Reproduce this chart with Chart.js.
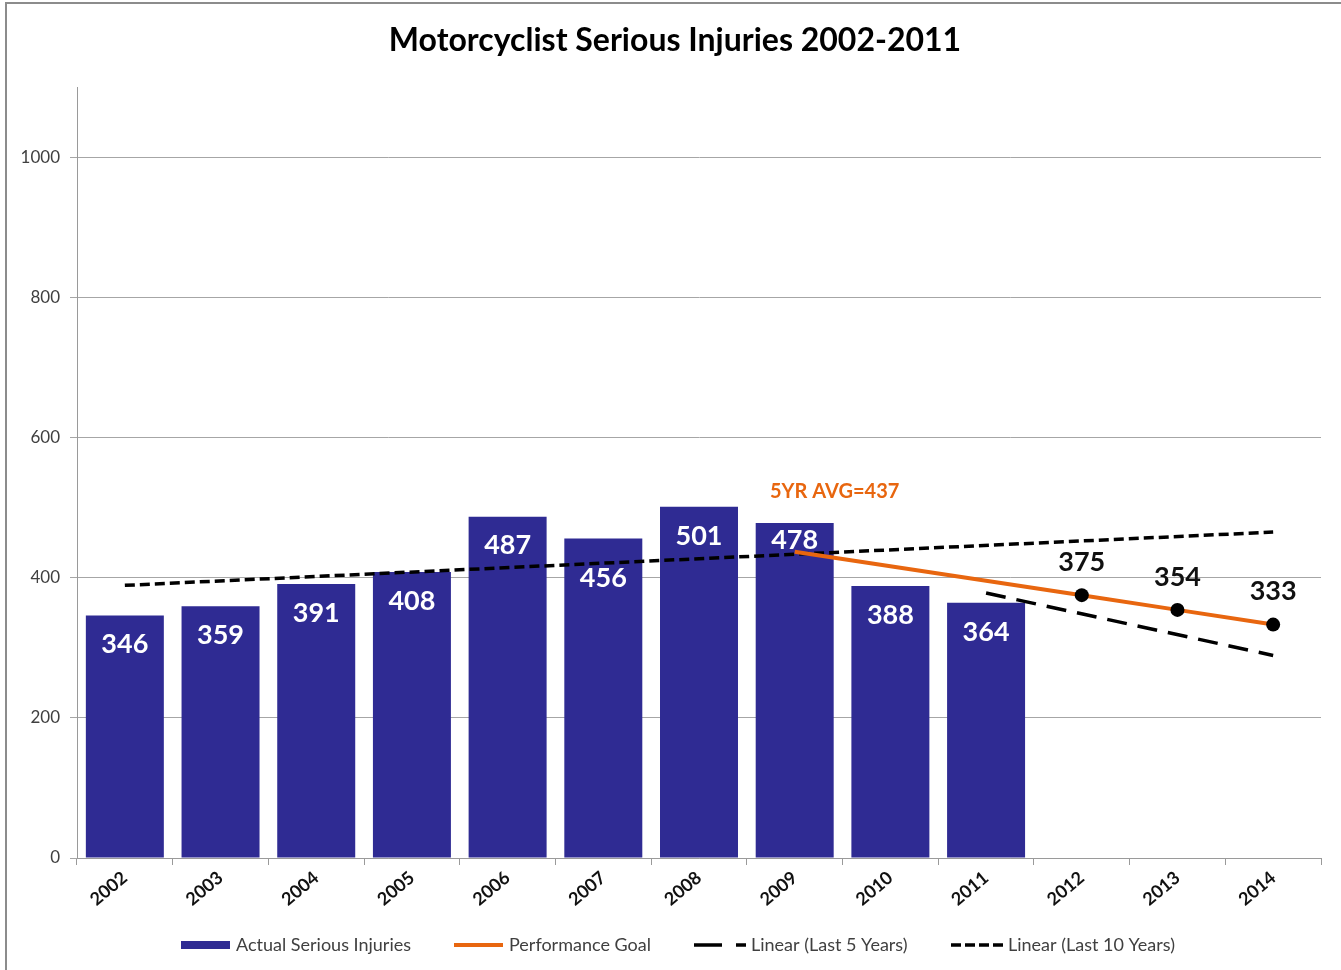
<!DOCTYPE html>
<html>
<head>
<meta charset="utf-8">
<script src="https://cdn.jsdelivr.net/npm/chart.js@4"></script>
<style>
  html, body { margin: 0; padding: 0; background: #ffffff; }
  #wrap { width: 1341px; height: 970px; position: relative; }
</style>
</head>
<body>
<div id="wrap"><canvas id="c" width="1341" height="970"></canvas></div>
<script>
// ---- data ----
const categories = ['2002','2003','2004','2005','2006','2007','2008','2009','2010','2011','2012','2013','2014'];
const actualInjuries = [346, 359, 391, 408, 487, 456, 501, 478, 388, 364, null, null, null];
const performanceGoal = [null, null, null, null, null, null, null, 437, null, null, 375, 354, 333];
const trendLast5 = [null, null, null, null, null, null, null, null, null, 378, null, null, 289];
const trendLast10 = [389, null, null, null, null, null, null, null, null, null, null, null, 465];
const yTickValues = [0, 200, 400, 600, 800, 1000];
const titleText = 'Motorcyclist Serious Injuries 2002-2011';
const avgLabel = '5YR AVG=437';
const avgLabelIndex = 7;
const seriesNames = ['Actual Serious Injuries', 'Performance Goal', 'Linear (Last 5 Years)', 'Linear (Last 10 Years)'];

// ---- styles ----
const FONT = 'Lato, "Open Sans", sans-serif';
const BAR_COLOR = '#2f2b93';
const ORANGE = '#e8660f';
const AXIS_GRAY = '#9a9a9a';

const overlay = {
  id: 'overlay',
  afterDatasetsDraw(chart) {
    const ctx = chart.ctx;
    const x = chart.scales.x, y = chart.scales.y;
    ctx.save();
    // bar value labels
    ctx.font = 'bold 27px ' + FONT;
    ctx.fillStyle = '#ffffff';
    ctx.textAlign = 'center';
    ctx.textBaseline = 'middle';
    const nudge = {5: 11, 7: -12};
    const barMeta = chart.getDatasetMeta(0);
    actualInjuries.forEach((v, i) => {
      if (v == null) return;
      const bar = barMeta.data[i];
      ctx.fillText(String(v), bar.x, bar.y + 29 + (nudge[i] || 0));
    });
    // goal labels
    ctx.fillStyle = '#111111';
    performanceGoal.forEach((v, i) => {
      if (v == null || i <= avgLabelIndex) return;
      ctx.fillText(String(v), x.getPixelForValue(i), y.getPixelForValue(v) - 33);
    });
    // 5yr average label
    ctx.font = 'bold 20px ' + FONT;
    ctx.fillStyle = ORANGE;
    ctx.fillText(avgLabel, x.getPixelForValue(avgLabelIndex) + 40, y.getPixelForValue(performanceGoal[avgLabelIndex]) - 60);
    ctx.restore();
  },
  afterDraw(chart) {
    const ctx = chart.ctx;
    ctx.save();
    // title
    ctx.font = 'bold 32px ' + FONT;
    ctx.fillStyle = '#000000';
    ctx.textAlign = 'center';
    ctx.textBaseline = 'middle';
    ctx.fillText(titleText, 675, 41);
    // frame
    ctx.strokeStyle = '#8c8c8c';
    ctx.lineWidth = 2;
    ctx.strokeRect(6, 3, 1340, 980);
    // legend
    const ly = 945;
    ctx.font = '18px ' + FONT;
    ctx.fillStyle = '#404040';
    ctx.textAlign = 'left';
    ctx.textBaseline = 'middle';
    // 1: bar
    ctx.fillStyle = BAR_COLOR;
    ctx.fillRect(181, ly - 4, 49, 8);
    ctx.fillStyle = '#404040';
    ctx.fillText(seriesNames[0], 236, ly);
    // 2: orange line
    ctx.strokeStyle = ORANGE; ctx.lineWidth = 4;
    ctx.beginPath(); ctx.moveTo(454, ly); ctx.lineTo(503, ly); ctx.stroke();
    ctx.fillText(seriesNames[1], 509, ly);
    // 3: long dash
    ctx.strokeStyle = '#000000'; ctx.lineWidth = 3.5;
    ctx.setLineDash([28, 14]);
    ctx.beginPath(); ctx.moveTo(694, ly); ctx.lineTo(746, ly); ctx.stroke();
    ctx.fillText(seriesNames[2], 751, ly);
    // 4: short dash
    ctx.setLineDash([10, 4]);
    ctx.beginPath(); ctx.moveTo(951, ly); ctx.lineTo(1004, ly); ctx.stroke();
    ctx.setLineDash([]);
    ctx.fillText(seriesNames[3], 1008, ly);
    ctx.restore();
  }
};

new Chart(document.getElementById('c'), {
  data: {
    labels: categories,
    datasets: [
      {
        type: 'bar', label: seriesNames[0], data: actualInjuries,
        backgroundColor: BAR_COLOR, borderWidth: 0,
        categoryPercentage: 1.0, barPercentage: 0.815, order: 4
      },
      {
        type: 'line', label: seriesNames[1], data: performanceGoal,
        borderColor: ORANGE, borderWidth: 4, spanGaps: true, tension: 0,
        pointRadius: (c) => c.dataIndex > avgLabelIndex ? 7 : 0,
        pointBackgroundColor: '#000000', pointBorderColor: '#000000', pointBorderWidth: 0,
        order: 1
      },
      {
        type: 'line', label: seriesNames[2], data: trendLast5,
        borderColor: '#000000', borderWidth: 3.5, borderDash: [20, 11], spanGaps: true,
        pointRadius: 0, order: 2
      },
      {
        type: 'line', label: seriesNames[3], data: trendLast10,
        borderColor: '#000000', borderWidth: 3.5, borderDash: [10, 5], spanGaps: true,
        pointRadius: 0, order: 3
      }
    ]
  },
  options: {
    responsive: false, animation: false,
    layout: { padding: { top: 87, right: 20, left: 0, bottom: 0 } },
    plugins: { legend: { display: false }, title: { display: false }, tooltip: { enabled: false } },
    scales: {
      x: {
        type: 'category', offset: true,
        grid: { display: true, drawOnChartArea: false, drawTicks: true, tickLength: 7, offset: true, color: AXIS_GRAY },
        border: { display: true, color: AXIS_GRAY, width: 1 },
        ticks: { minRotation: 40, maxRotation: 40, font: { family: FONT, size: 18, weight: 'bold' }, color: '#111111', padding: 2 },
        afterFit: (s) => { s.height = 112; }
      },
      y: {
        min: 0, max: 1100,
        afterBuildTicks: (s) => { s.ticks = yTickValues.map(v => ({ value: v })); },
        ticks: { font: { family: FONT, size: 17 }, color: '#404040', padding: 10, callback: (v) => String(v) },
        grid: { color: '#a6a6a6', lineWidth: 1, tickLength: 7 },
        border: { display: true, color: AXIS_GRAY, width: 1 },
        afterFit: (s) => { s.width = 77; }
      }
    }
  },
  plugins: [overlay]
});
</script>
</body>
</html>
